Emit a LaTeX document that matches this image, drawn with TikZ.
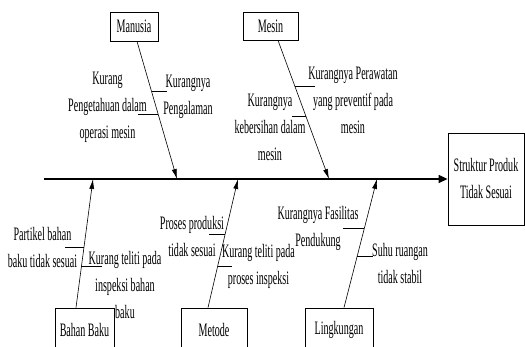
\documentclass[tikz,border=0pt]{standalone}
\usepackage{fontspec}
\setmainfont[FakeStretch=0.53]{Liberation Serif}
\usetikzlibrary{arrows.meta}
\tikzset{
  box/.style={draw,line width=0.8pt,rectangle,inner sep=0pt,align=center,font=\fontsize{19}{27}\selectfont},
  lbl/.style={align=center,inner sep=0pt,font=\fontsize{19}{27}\selectfont},
  branch/.style={line width=0.6pt,-{Latex[length=10pt,width=5pt]}},
  sub/.style={line width=1pt},
  spine/.style={line width=1.4pt,-{Triangle[length=9pt,width=8pt]}}
}
\begin{document}
\begin{tikzpicture}[x=1pt,y=-1pt]
\useasboundingbox (0,0) rectangle (525,347);
\clip (0,0) rectangle (525,347);
% boxes
\node[box,minimum width=76pt,minimum height=92pt] (eff) at (486,179) {Struktur Produk\\Tidak Sesuai};
\node[box,minimum width=48pt,minimum height=29pt] (man) at (134,26.5) {Manusia};
\node[box,minimum width=55pt,minimum height=28pt] (mes) at (270.5,26) {Mesin};
\node[box,minimum width=59pt,minimum height=44pt] (bah) at (84.5,330) {Bahan Baku};
\node[box,minimum width=66pt,minimum height=44pt] (met) at (214,330) {Metode};
\node[box,minimum width=68pt,minimum height=44pt] (lin) at (339,330) {Lingkungan};
% spine
\coordinate (tail) at (44,179);
\draw[spine] (tail) -- (eff.west);
% branch end points on spine
\coordinate (s1) at (177,179);
\coordinate (s2) at (329,179);
\coordinate (s3) at (93,179);
\coordinate (s4) at (238,179);
\coordinate (s5) at (377,179);
\draw[branch] ([xshift=3pt]man.south) -- (s1);
\draw[branch] ([xshift=7.5pt]mes.south) -- (s2);
\draw[branch] ([xshift=-8.5pt]bah.north) -- (s3);
\draw[branch] ([xshift=-6pt]met.north) -- (s4);
\draw[branch] ([xshift=5pt]lin.north) -- (s5);
% sub-cause lines
\draw[sub] (152,92) -- (167,92);
\draw[sub] (138,115) -- (158,115);
\draw[sub] (295,87) -- (315,87);
\draw[sub] (292,117) -- (306,117);
\draw[sub] (65,248) -- (84,248);
\draw[sub] (81,267) -- (102,267);
\draw[sub] (209,235) -- (225,235);
\draw[sub] (218,267) -- (232,267);
\draw[sub] (343,229) -- (364,229);
\draw[sub] (357,257) -- (373,257);
% labels
\node[lbl] (l1) at (188,97) {Kurangnya\\Pengalaman};
\node[lbl] (l2) at (107.5,107) {Kurang\\Pengetahuan dalam\\operasi mesin};
\node[lbl] (l3) at (353,100) {Kurangnya Perawatan\\yang preventif pada\\mesin};
\node[lbl] (l4) at (270,127) {Kurangnya\\kebersihan dalam\\mesin};
\node[lbl] (l5) at (42.5,248) {Partikel bahan\\baku tidak sesuai};
\node[lbl] (l6) at (125,285) {Kurang teliti pada\\inspeksi bahan\\baku};
\node[lbl] (l7) at (192,237) {Proses produksi\\tidak sesuai};
\node[lbl] (l8) at (258.5,266) {Kurang teliti pada\\proses inspeksi};
\node[lbl] (l9) at (318,228) {Kurangnya Fasilitas\\Pendukung};
\node[lbl] (l10) at (400,264) {Suhu ruangan\\tidak stabil};
\end{tikzpicture}
\end{document}
